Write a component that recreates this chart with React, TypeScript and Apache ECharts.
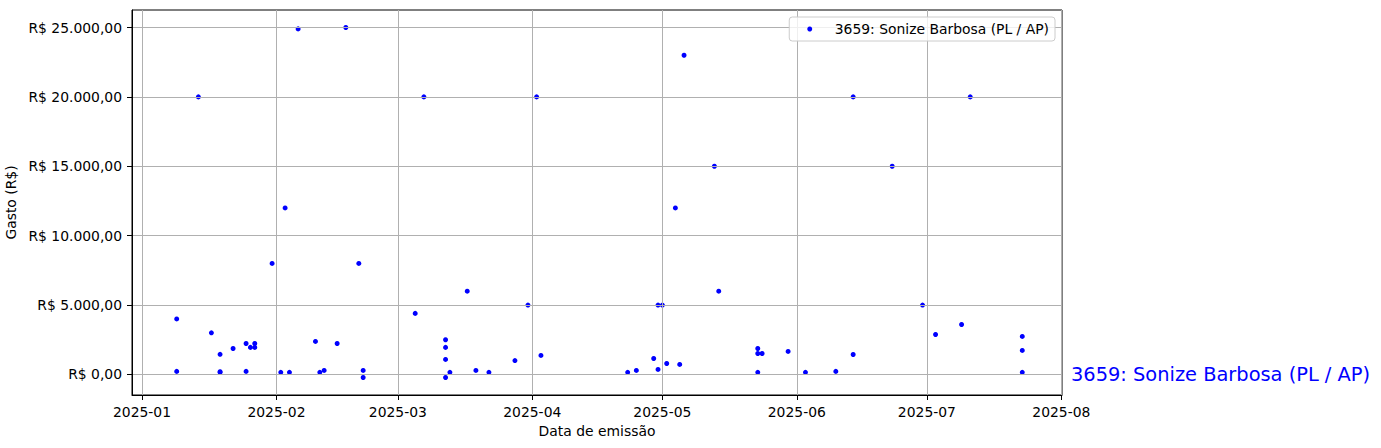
import React, { useEffect, useRef } from "react";
import * as echarts from "echarts";

const SERIES_NAME = "3659: Sonize Barbosa (PL / AP)";

const dates: string[] = [
  "2025-01-09", "2025-01-09", "2025-01-14", "2025-01-17", "2025-01-19", "2025-01-19", "2025-01-19",
  "2025-01-22", "2025-01-25", "2025-01-25", "2025-01-26", "2025-01-27", "2025-01-27", "2025-01-31",
  "2025-02-02", "2025-02-03", "2025-02-04", "2025-02-06", "2025-02-10", "2025-02-11", "2025-02-12",
  "2025-02-15", "2025-02-17", "2025-02-20", "2025-02-21", "2025-02-21",
  "2025-03-05", "2025-03-07", "2025-03-12", "2025-03-12", "2025-03-12", "2025-03-12", "2025-03-13",
  "2025-03-17", "2025-03-19", "2025-03-22", "2025-03-28", "2025-03-31",
  "2025-04-02", "2025-04-03", "2025-04-23", "2025-04-25", "2025-04-29", "2025-04-30", "2025-04-30",
  "2025-05-01", "2025-05-02", "2025-05-04", "2025-05-05", "2025-05-06", "2025-05-13", "2025-05-14",
  "2025-05-23", "2025-05-23", "2025-05-23", "2025-05-24", "2025-05-30",
  "2025-06-03", "2025-06-10", "2025-06-14", "2025-06-14", "2025-06-23", "2025-06-30",
  "2025-07-03", "2025-07-09", "2025-07-11", "2025-07-23", "2025-07-23", "2025-07-23",
];

const values: number[] = [
  4000, 220, 20000, 3000, 1450, 200, 150,
  1870, 220, 2230, 1950, 2230, 1950, 8000,
  150, 12000, 150, 24900, 2380, 150, 290,
  2230, 25000, 8000, -220, 290,
  4400, 20000, 2500, 1950, 1080, -220, 150,
  6000, 290, 150, 1000, 5000,
  20000, 1370, 150, 290, 1150, 360, 5000,
  5000, 790, 12000, 720, 23000, 15000, 6000,
  1870, 1510, 150, 1510, 1660,
  150, 220, 1440, 20000, 15000, 5000,
  2880, 3600, 20000, 2740, 1730, 150,
];

const xTickLabels: string[] = [
  "2025-01", "2025-02", "2025-03", "2025-04", "2025-05", "2025-06", "2025-07", "2025-08",
];
const yTickValues: number[] = [0, 5000, 10000, 15000, 20000, 25000];

const DAY = 86400000;
function parseDay(s: string): number {
  const [y, m, d] = s.split("-").map(Number);
  return new Date(y, m - 1, d || 1).getTime();
}

function brl(v: number): string {
  const s = Math.abs(v).toFixed(2);
  const [i, d] = s.split(".");
  const ii = i.replace(/\B(?=(\d{3})+(?!\d))/g, ".");
  return "R$ " + (v < 0 ? "-" : "") + ii + "," + d;
}

function pad2(n: number) {
  return n < 10 ? "0" + n : "" + n;
}

export default function App() {
  const ref = useRef<HTMLDivElement>(null);

  useEffect(() => {
    document.body.style.margin = "0";
    if (!ref.current) return;
    const chart = echarts.init(ref.current, undefined, { renderer: "svg" });
    const font = "DejaVu Sans";
    const xTicks = xTickLabels.map(parseDay);
    const xMin = parseDay("2025-01-01") - 2.31 * DAY;
    const xMax = parseDay("2025-08-01") + 0.16 * DAY;
    const yMin = -1481;
    const yMax = 26261;
    const data = dates.map((d, i) => [parseDay(d), values[i]]);

    chart.setOption({
      animation: false,
      textStyle: { fontFamily: font },
      grid: {
        left: 132,
        right: 319,
        top: 10,
        bottom: 53,
        containLabel: false,
        outerBoundsMode: "none",
        show: true,
        borderColor: "#000",
        borderWidth: 1,
        backgroundColor: "transparent",
      },
      legend: {
        data: [SERIES_NAME],
        right: 326,
        top: 17,
        padding: [5, 6, 5, 18],
        itemWidth: 40,
        itemHeight: 5,
        icon: "circle",
        backgroundColor: "rgba(255,255,255,0.8)",
        borderColor: "#cccccc",
        borderWidth: 1,
        borderRadius: 3,
        textStyle: { fontFamily: font, fontSize: 13.9, color: "#000" },
      },
      xAxis: {
        type: "value",
        min: xMin,
        max: xMax,
        z: 3,
        name: "Data de emissão",
        nameLocation: "middle",
        nameGap: 27,
        nameTextStyle: { fontFamily: font, fontSize: 13.9, color: "#000" },
        axisLine: { show: true, onZero: false, lineStyle: { color: "#000", width: 1 } },
        axisTick: { show: true, length: 5, inside: false, customValues: xTicks, lineStyle: { color: "#000", width: 1 } },
        axisLabel: {
          customValues: xTicks,
          margin: 10,
          fontFamily: font,
          fontSize: 13.9,
          color: "#000",
          formatter: (v: number) => {
            const d = new Date(v);
            return d.getFullYear() + "-" + pad2(d.getMonth() + 1);
          },
        },
        splitLine: { show: true, lineStyle: { color: "#b0b0b0", width: 1 } },
      },
      yAxis: {
        type: "value",
        min: yMin,
        max: yMax,
        z: 3,
        name: "Gasto (R$)",
        nameLocation: "middle",
        nameGap: 110,
        nameRotate: 90,
        nameTextStyle: { fontFamily: font, fontSize: 13.9, color: "#000" },
        axisLine: { show: true, onZero: false, lineStyle: { color: "#000", width: 1 } },
        axisTick: { show: true, length: 5, inside: false, customValues: yTickValues, lineStyle: { color: "#000", width: 1 } },
        axisLabel: {
          customValues: yTickValues,
          margin: 10,
          fontFamily: font,
          fontSize: 13.9,
          color: "#000",
          formatter: (v: number) => brl(v),
        },
        splitLine: { show: true, lineStyle: { color: "#b0b0b0", width: 1 } },
      },
      series: [
        {
          name: SERIES_NAME,
          type: "scatter",
          symbol: "circle",
          symbolSize: 5,
          itemStyle: { color: "#0000ff", opacity: 1 },
          data,
          z: 2,
        },
      ],
    });

    const p = chart.convertToPixel({ gridIndex: 0 }, [xMax, 0]) as number[];
    chart.setOption({
      graphic: [
        {
          type: "text",
          x: p[0] + 9,
          y: p[1],
          style: {
            text: SERIES_NAME,
            fill: "#0000ff",
            fontFamily: font,
            fontSize: 19.4,
            verticalAlign: "middle",
            align: "left",
          },
        },
      ],
    });

    return () => chart.dispose();
  }, []);

  return <div ref={ref} style={{ width: 1381, height: 448 }} />;
}
